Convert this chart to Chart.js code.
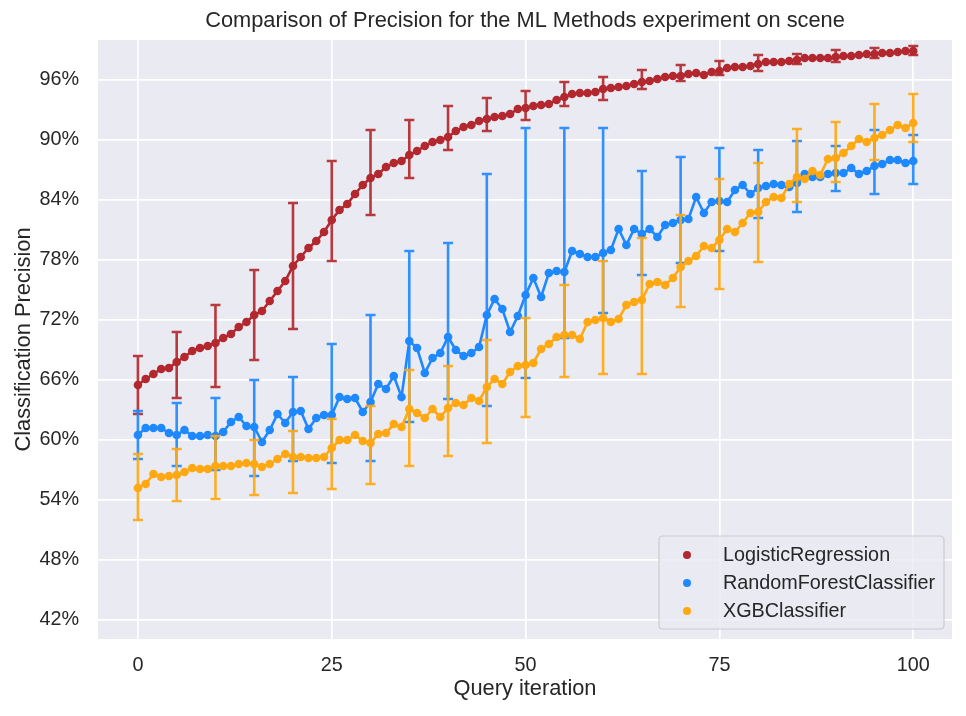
<!DOCTYPE html>
<html>
<head>
<meta charset="utf-8">
<script src="https://cdn.jsdelivr.net/npm/chart.js@4.4.1/dist/chart.umd.min.js"></script>
<style>
html,body{margin:0;padding:0;background:#ffffff;}
#c{display:block;}
</style>
</head>
<body>
<canvas id="c" width="966" height="716" style="width:966px;height:716px"></canvas>
<script>
const chartTitle = "Comparison of Precision for the ML Methods experiment on scene";
const xTitle = "Query iteration";
const yTitle = "Classification Precision";
const seriesNames = ["LogisticRegression", "RandomForestClassifier", "XGBClassifier"];
const seriesColors = ["#B2282E", "#1E88FF", "#FFA812"];

const iterations = [0,1,2,3,4,5,6,7,8,9,10,11,12,13,14,15,16,17,18,19,20,21,22,23,24,25,26,27,28,29,30,31,32,33,34,35,36,37,38,39,40,41,42,43,44,45,46,47,48,49,50,51,52,53,54,55,56,57,58,59,60,61,62,63,64,65,66,67,68,69,70,71,72,73,74,75,76,77,78,79,80,81,82,83,84,85,86,87,88,89,90,91,92,93,94,95,96,97,98,99,100];
const errIterations = [0,5,10,15,20,25,30,35,40,45,50,55,60,65,70,75,80,85,90,95,100];
const xTicks = [0,25,50,75,100];
const yTicks = [42,48,54,60,66,72,78,84,90,96];

const lrValues = [65.5,66.1,66.6,67.1,67.2,67.8,68.3,68.9,69.2,69.4,69.7,70.2,70.6,71.3,71.8,72.5,72.9,73.9,74.9,75.9,77.4,78.3,79.2,79.9,80.8,82.0,83.0,83.6,84.6,85.5,86.2,86.6,87.3,87.7,87.9,88.5,88.9,89.4,89.8,90.0,90.3,90.9,91.3,91.5,91.9,92.1,92.3,92.4,92.6,93.1,93.2,93.4,93.5,93.6,94.0,94.3,94.6,94.7,94.7,94.8,95.1,95.2,95.3,95.4,95.6,95.8,95.9,96.1,96.3,96.4,96.4,96.6,96.7,96.5,96.8,96.9,97.2,97.3,97.3,97.4,97.6,97.8,97.8,97.8,97.9,98.0,98.2,98.2,98.2,98.2,98.3,98.4,98.4,98.5,98.6,98.6,98.7,98.7,98.8,98.9,98.9];
const lrErrLow  = [62.6,64.2,65.3,68.0,71.1,77.9,82.5,86.2,89.0,90.9,92.0,93.4,94.0,95.1,95.9,96.5,96.9,97.6,97.8,98.2,98.5];
const lrErrHigh = [68.4,70.8,73.5,77.0,83.7,87.9,91.0,92.0,93.4,94.2,94.9,95.8,96.3,97.0,97.5,97.9,98.5,98.6,99.0,99.2,99.4];

const rfValues = [60.5,61.2,61.2,61.2,60.7,60.5,61.0,60.4,60.4,60.5,60.4,60.8,61.8,62.3,61.4,61.3,59.8,61.0,62.6,61.7,62.8,62.9,61.1,62.2,62.5,62.5,64.3,64.1,64.2,62.8,63.8,65.6,65.1,66.4,64.3,69.9,69.2,66.7,68.2,68.7,70.3,69.0,68.4,68.7,69.3,72.5,74.1,73.1,70.8,72.4,74.5,76.2,74.3,76.7,76.9,76.8,78.9,78.6,78.3,78.3,78.7,79.0,81.1,79.5,81.1,80.6,81.1,80.3,81.5,81.7,82.0,82.1,84.3,82.7,83.8,83.9,83.8,85.0,85.5,84.6,85.2,85.4,85.6,85.5,85.3,85.7,86.6,86.3,86.3,86.6,86.7,86.7,87.2,86.6,86.9,87.4,87.6,88.0,88.0,87.7,87.9];
const rfErrLow  = [58.1,57.4,57.0,56.4,57.9,57.7,57.9,61.8,64.1,63.4,66.2,70.2,72.7,76.5,77.7,78.9,82.2,82.8,84.9,84.6,85.6];
const rfErrHigh = [62.9,63.7,64.2,66.0,66.3,69.6,72.5,78.9,79.7,86.6,91.2,91.2,91.2,86.9,88.3,89.2,89.0,89.9,89.4,91.0,90.5];

const xgbValues = [55.2,55.6,56.6,56.3,56.4,56.5,56.8,57.2,57.1,57.1,57.4,57.4,57.4,57.6,57.7,57.6,57.3,57.6,58.1,58.6,58.3,58.3,58.2,58.2,58.3,59.2,60.0,60.0,60.5,59.9,59.7,60.6,60.7,61.6,61.3,63.1,62.7,62.2,63.1,62.3,63.2,63.7,63.5,64.2,63.9,65.3,66.1,65.6,66.8,67.4,67.5,67.7,69.1,69.6,70.3,70.5,70.5,70.1,71.8,72.0,72.2,71.8,72.1,73.5,73.8,74.0,75.6,75.8,75.5,76.2,77.3,77.9,78.4,79.4,79.2,80.0,81.1,80.8,81.7,82.7,82.8,83.8,84.3,84.2,85.6,86.3,86.1,86.9,86.5,88.1,88.2,88.7,89.4,90.1,89.8,90.2,90.5,91.0,91.5,91.2,91.7];
const xgbErrLow  = [52.0,53.9,54.1,54.5,54.7,55.1,55.6,57.4,58.4,59.7,62.3,66.3,66.6,66.6,73.3,75.1,77.8,83.8,85.8,88.0,89.8];
const xgbErrHigh = [58.6,59.1,60.4,60.0,60.9,62.1,63.4,67.0,67.4,70.0,72.2,75.5,77.9,80.2,82.5,86.1,87.7,91.1,91.8,93.6,94.6];

const allValues = [lrValues, rfValues, xgbValues];
const allErrLow = [lrErrLow, rfErrLow, xgbErrLow];
const allErrHigh = [lrErrHigh, rfErrHigh, xgbErrHigh];

const FONT = "'Liberation Sans', Arial, 'DejaVu Sans', sans-serif";
const TEXT_COLOR = "#262626";

const datasets = seriesNames.map((name, s) => ({
  label: name,
  data: iterations.map((it, i) => ({x: it, y: allValues[s][i]})),
  borderColor: seriesColors[s],
  backgroundColor: seriesColors[s],
  borderWidth: 2.6,
  pointRadius: 4.3,
  pointBorderWidth: 0,
  pointHoverRadius: 4.3,
  tension: 0,
  order: 3 - s,
  errLow: allErrLow[s],
  errHigh: allErrHigh[s]
}));

const bgPlugin = {
  id: 'bgPlugin',
  beforeDraw(chart) {
    const {ctx, chartArea: a} = chart;
    ctx.save();
    ctx.fillStyle = '#EAEAF2';
    ctx.fillRect(a.left, a.top, a.right - a.left, a.bottom - a.top);
    ctx.restore();
  }
};

const errorBarPlugin = {
  id: 'errorBarPlugin',
  beforeDatasetDraw(chart, args) {
    const ds = chart.data.datasets[args.index];
    const xs = chart.scales.x, ys = chart.scales.y;
    const ctx = chart.ctx;
    ctx.save();
    ctx.strokeStyle = ds.borderColor;
    ctx.globalAlpha = 0.92;
    ctx.lineWidth = 2.6;
    ctx.lineCap = 'butt';
    const cap = 5;
    errIterations.forEach((it, k) => {
      const px = xs.getPixelForValue(it);
      const y1 = ys.getPixelForValue(ds.errLow[k]);
      const y2 = ys.getPixelForValue(ds.errHigh[k]);
      ctx.beginPath();
      ctx.moveTo(px, y1); ctx.lineTo(px, y2);
      ctx.moveTo(px - cap, y1); ctx.lineTo(px + cap, y1);
      ctx.moveTo(px - cap, y2); ctx.lineTo(px + cap, y2);
      ctx.stroke();
    });
    ctx.restore();
  }
};

const textPlugin = {
  id: 'textPlugin',
  afterDraw(chart) {
    const {ctx, chartArea: a} = chart;
    ctx.save();
    // title
    ctx.fillStyle = TEXT_COLOR;
    ctx.font = "21.8px " + FONT;
    ctx.textAlign = 'center';
    ctx.textBaseline = 'middle';
    ctx.fillText(chartTitle, (a.left + a.right) / 2, 21);
    // legend
    const lx = 659, ly = 536, lw = 285, lh = 93, r = 4;
    ctx.beginPath();
    ctx.moveTo(lx + r, ly);
    ctx.lineTo(lx + lw - r, ly);
    ctx.quadraticCurveTo(lx + lw, ly, lx + lw, ly + r);
    ctx.lineTo(lx + lw, ly + lh - r);
    ctx.quadraticCurveTo(lx + lw, ly + lh, lx + lw - r, ly + lh);
    ctx.lineTo(lx + r, ly + lh);
    ctx.quadraticCurveTo(lx, ly + lh, lx, ly + lh - r);
    ctx.lineTo(lx, ly + r);
    ctx.quadraticCurveTo(lx, ly, lx + r, ly);
    ctx.closePath();
    ctx.fillStyle = 'rgba(234,234,242,0.8)';
    ctx.fill();
    ctx.strokeStyle = '#CCCCCC';
    ctx.lineWidth = 1.2;
    ctx.stroke();
    ctx.font = "19.8px " + FONT;
    ctx.textAlign = 'left';
    ctx.textBaseline = 'middle';
    seriesNames.forEach((name, s) => {
      const y = 555 + s * 28;
      ctx.beginPath();
      ctx.arc(687, y, 4, 0, Math.PI * 2);
      ctx.fillStyle = seriesColors[s];
      ctx.fill();
      ctx.fillStyle = TEXT_COLOR;
      ctx.fillText(name, 723, y + 1);
    });
    ctx.restore();
  }
};

new Chart(document.getElementById('c'), {
  type: 'line',
  data: { datasets },
  plugins: [bgPlugin, errorBarPlugin, textPlugin],
  options: {
    responsive: false,
    animation: false,
    devicePixelRatio: 1,
    layout: { padding: { left: 0, right: 14, top: 40, bottom: 0 } },
    plugins: { legend: { display: false }, tooltip: { enabled: false }, title: { display: false } },
    scales: {
      x: {
        type: 'linear',
        min: -5.15,
        max: 105,
        afterFit(scale) { scale.height = 77; },
        afterBuildTicks(scale) { scale.ticks = xTicks.map(v => ({value: v})); },
        grid: { color: '#FFFFFF', lineWidth: 1.7, drawTicks: false },
        border: { display: false },
        ticks: { padding: 15, color: TEXT_COLOR, font: { family: FONT, size: 19.8 }, maxRotation: 0 },
        title: { display: true, text: xTitle, color: TEXT_COLOR, font: { family: FONT, size: 21.8 }, padding: { top: 0, bottom: 14 } }
      },
      y: {
        type: 'linear',
        min: 40.1,
        max: 100,
        afterFit(scale) { scale.width = 98; },
        afterBuildTicks(scale) { scale.ticks = yTicks.map(v => ({value: v})); },
        grid: { color: '#FFFFFF', lineWidth: 1.7, drawTicks: false },
        border: { display: false },
        ticks: { padding: 19, color: TEXT_COLOR, font: { family: FONT, size: 19.8 }, callback: v => v + '%' },
        title: { display: true, text: yTitle, color: TEXT_COLOR, font: { family: FONT, size: 21.8 }, padding: { top: 11, bottom: 0 } }
      }
    }
  }
});
</script>
</body>
</html>
